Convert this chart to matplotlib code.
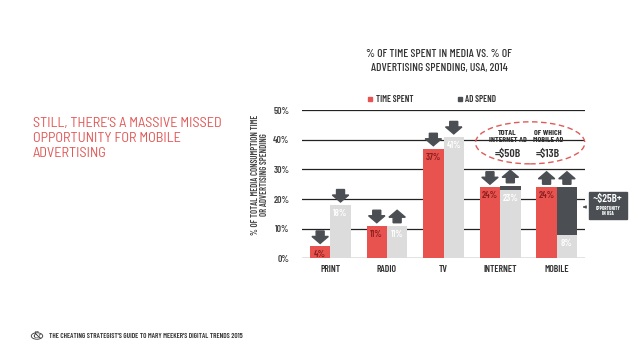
import matplotlib
matplotlib.use("Agg")
import matplotlib.pyplot as plt
import matplotlib.transforms as mtransforms
from matplotlib.patches import Polygon, Ellipse, Rectangle, Circle
import numpy as np

plt.rcParams['font.family'] = ['Barlow Condensed', 'Liberation Sans Narrow', 'DejaVu Sans']

categories = ["PRINT", "RADIO", "TV", "INTERNET", "MOBILE"]
time_spent = [4, 11, 37, 24, 24]
ad_spend = [18, 11, 41, 23, 8]
opportunity = [0, 0, 0, 1.5, 16]          # dark segment stacked on ad spend
time_dir = ["down", "down", "down", "down", "up"]
ad_dir = ["down", "up", "down", "up", "up"]
yticks = [0, 10, 20, 30, 40, 50]
ytick_labels = ["0%", "10%", "20%", "30%", "40%", "50%"]

RED = "#e8534f"
GRAY = "#dcdcdd"
DARK = "#4b4f54"
TXT = "#333333"
LRED = "#e05a57"

fig = plt.figure(figsize=(6.38, 3.59), dpi=100)
ax = fig.add_axes([0.4734, 0.2805, 0.4436, 0.4123])

x = np.arange(len(categories))
w = 0.36
ax.set_xlim(-0.5, 4.5)
ax.set_ylim(0, 50)
for s in ax.spines.values():
    s.set_visible(False)
for t in yticks:
    ax.axhline(t, color="#222222", lw=0.9, zorder=1)

ax.bar(x - w / 2, time_spent, w, color=RED, zorder=2)
ax.bar(x + w / 2, ad_spend, w, color=GRAY, zorder=2)
ax.bar(x + w / 2, opportunity, w, bottom=ad_spend, color=DARK, zorder=2)

ax.set_yticks(yticks)
ax.set_yticklabels(ytick_labels, fontsize=7, fontweight="semibold", color="#444444")
ax.set_xticks(x)
ax.set_xticklabels(categories, fontsize=7, fontweight="semibold", color=TXT)
ax.tick_params(length=0)
ax.tick_params(axis="y", pad=9)
ax.tick_params(axis="x", pad=5)
ax.set_ylabel("% OF TOTAL MEDIA CONSUMPTION TIME\nOR ADVERTISING SPENDING",
              fontsize=6.3, fontweight="semibold", color="#444444", labelpad=4,
              linespacing=0.95)
ax.yaxis.set_label_coords(-0.118, 0.565)

# bar value labels
off = mtransforms.ScaledTranslation(0, -0.085, fig.dpi_scale_trans)
for i in range(len(categories)):
    ax.text(x[i] - w / 2, time_spent[i], f"{time_spent[i]}%", ha="center", va="center",
            fontsize=7, fontweight="semibold", color="#8a1f1f",
            transform=ax.transData + off, zorder=3)
    ax.text(x[i] + w / 2, ad_spend[i], f"{ad_spend[i]}%", ha="center", va="center",
            fontsize=7, fontweight="semibold", color="white",
            transform=ax.transData + off, zorder=3)


def arrow(xc, top, direction):
    # arrow shape in inches relative to (xc, top)
    g, sh, hh, hw, sw = 0.03, 0.055, 0.07, 0.082, 0.04
    if direction == "down":
        verts = [(-sw, g + hh + sh), (sw, g + hh + sh), (sw, g + hh), (hw, g + hh),
                 (0, g), (-hw, g + hh), (-sw, g + hh)]
    else:
        verts = [(-sw, g), (sw, g), (sw, g + sh), (hw, g + sh),
                 (0, g + sh + hh), (-hw, g + sh), (-sw, g + sh)]
    tr = fig.dpi_scale_trans + mtransforms.ScaledTranslation(xc, top, ax.transData)
    ax.add_patch(Polygon(verts, closed=True, color=DARK, transform=tr,
                         clip_on=False, zorder=4))


for i in range(len(categories)):
    arrow(x[i] - w / 2, time_spent[i], time_dir[i])
    arrow(x[i] + w / 2, ad_spend[i] + opportunity[i], ad_dir[i])

# dashed ellipse callout
ell = Ellipse((3.53, 39.0), 1.93, 14.2, fill=False, ec=LRED, lw=1.0,
              ls=(0, (4, 2.5)), clip_on=False, zorder=5)
ax.add_patch(ell)
ax.text(3.13, 41.2, "TOTAL\nINTERNET AD", ha="center", va="center", fontsize=5.8,
        fontweight="bold", color=TXT, linespacing=1.25)
ax.text(3.13, 35.4, "=$50B", ha="center", va="center", fontsize=8.5,
        fontweight="semibold", color=TXT)
ax.text(3.84, 41.2, "OF WHICH\nMOBILE AD", ha="center", va="center", fontsize=5.8,
        fontweight="bold", color=TXT, linespacing=1.25)
ax.text(3.84, 35.4, "=$13B", ha="center", va="center", fontsize=8.5,
        fontweight="semibold", color=TXT)

# opportunity box (figure coordinates)
fig.patches.append(Rectangle((589 / 638, 1 - 219 / 359), 38 / 638, 27 / 359,
                             color=DARK, transform=fig.transFigure, zorder=5))
fig.text(608 / 638, 1 - 199 / 359, "~$25B+", ha="center", va="center", fontsize=8,
         fontweight="semibold", color="white", zorder=6)
fig.text(608 / 638, 1 - 211 / 359, "OPPORTUNITY\nIN USA", ha="center", va="center",
         fontsize=3.6, fontweight="bold", color="white", linespacing=1.1, zorder=6)
ax.annotate("", xy=(580 / 638, 1 - 207 / 359), xytext=(587 / 638, 1 - 207 / 359),
            xycoords="figure fraction", textcoords="figure fraction",
            arrowprops=dict(arrowstyle="-|>", color=DARK, lw=0.8, mutation_scale=4))

# title and legend
fig.text(439 / 638, 1 - 61 / 359, "% OF TIME SPENT IN MEDIA VS. % OF\nADVERTISING SPENDING, USA, 2014",
         ha="center", va="center", fontsize=8.3, fontweight="medium", color=TXT,
         linespacing=1.4)
fig.patches.append(Rectangle((368 / 638, 1 - 101 / 359), 4 / 638, 4 / 359, color=RED,
                             transform=fig.transFigure))
fig.text(376 / 638, 1 - 99 / 359, "TIME SPENT", ha="left", va="center", fontsize=6.5,
         fontweight="semibold", color=TXT)
fig.patches.append(Rectangle((458 / 638, 1 - 101 / 359), 4 / 638, 4 / 359, color=DARK,
                             transform=fig.transFigure))
fig.text(465 / 638, 1 - 99 / 359, "AD SPEND", ha="left", va="center", fontsize=6.5,
         fontweight="semibold", color=TXT)

# left headline
fig.text(33 / 638, 1 - 139 / 359, "STILL, THERE'S A MASSIVE MISSED\nOPPORTUNITY FOR MOBILE\nADVERTISING",
         ha="left", va="center", fontsize=10.3, color=LRED, linespacing=1.2,
         family=['Barlow Semi Condensed', 'Archivo Narrow', 'DejaVu Sans'])

# footer
fig.patches.append(Circle((37 / 638, 1 - 336 / 359), 0.009, fill=False, ec=TXT, lw=0.6,
                          transform=fig.transFigure))
fig.text(37 / 638, 1 - 336 / 359, "&", ha="center", va="center", fontsize=7,
         color=TXT, family="DejaVu Serif")
fig.text(49 / 638, 1 - 336 / 359,
         "THE CHEATING STRATEGIST'S GUIDE TO MARY MEEKER'S DIGITAL TRENDS 2015",
         ha="left", va="center", fontsize=5.2, fontweight="semibold", color=TXT)

fig.savefig("out.png", dpi=100, facecolor="white")
